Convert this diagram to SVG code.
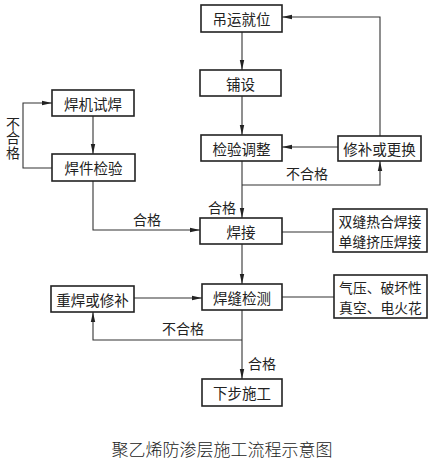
<svg xmlns="http://www.w3.org/2000/svg" width="435" height="465" viewBox="0 0 435 465">
<defs>
<marker id="arr" viewBox="0 0 10 6" refX="10" refY="3" markerWidth="10" markerHeight="6" markerUnits="userSpaceOnUse" orient="auto">
<path d="M0,0.8 L10,3 L0,5.2 Z" fill="#222"/>
</marker>
<style>
rect{fill:#fff;stroke:#222;stroke-width:1.6}
text{font-family:"Noto Sans CJK SC","Noto Sans CJK JP",sans-serif;font-size:14.5px;fill:#222;text-anchor:middle;dominant-baseline:central}
.lbl{font-size:14px}
.two{font-size:13.8px}
.vt{writing-mode:vertical-rl;text-orientation:upright;letter-spacing:0.5px}
.cap{font-size:17px;font-weight:300}
.ln{fill:none;stroke:#333;stroke-width:1.1}
.ar{marker-end:url(#arr)}
</style>
</defs>
<rect width="435" height="465" style="fill:#fff;stroke:none"/>
<g id="connectors">
<path class="ln ar" d="M242,32 V70"/>
<path class="ln ar" d="M242,96 V135"/>
<path class="ln ar" d="M338,147 H282"/>
<path class="ln ar" d="M380,136 V17 H282"/>
<path class="ln ar" d="M242,185 H380 V161"/>
<path class="ln ar" d="M242,161 V218"/>
<path class="ln ar" d="M93,116 V154"/>
<path class="ln ar" d="M52,168 H23 V103 H52"/>
<path class="ln ar" d="M93,181 V230 H200"/>
<path class="ln" d="M282,232 H333"/>
<path class="ln ar" d="M242,244 V284"/>
<path class="ln" d="M282,297 H334"/>
<path class="ln ar" d="M134,298 H202"/>
<path class="ln ar" d="M242,310 V379"/>
<path class="ln ar" d="M242,340 H93 V312"/>
<text class="lbl" x="307" y="173">不合格</text>
<text class="lbl" x="222" y="207">合格</text>
<text class="lbl" x="147" y="219">合格</text>
<text class="lbl vt" x="13" y="138">不合格</text>
<text class="lbl" x="183" y="328">不合格</text>
<text class="lbl" x="262" y="363">合格</text>
</g>
<g id="n1"><rect x="201" y="5" width="81" height="27"/><text x="241.5" y="18.5">吊运就位</text></g>
<g id="n2"><rect x="200" y="70" width="81" height="26"/><text x="240.5" y="83">铺设</text></g>
<g id="n3"><rect x="201" y="135" width="81" height="26"/><text x="241.5" y="148">检验调整</text></g>
<g id="n4"><rect x="338" y="136" width="83" height="25"/><text x="379.5" y="148.5">修补或更换</text></g>
<g id="n5"><rect x="52" y="90" width="82" height="26"/><text x="93" y="103">焊机试焊</text></g>
<g id="n6"><rect x="52" y="154" width="83" height="27"/><text x="93.5" y="167.5">焊件检验</text></g>
<g id="n7"><rect x="200" y="218" width="82" height="26"/><text x="241" y="231">焊接</text></g>
<g id="n8"><rect x="333" y="209" width="94" height="43"/><text class="two" x="380" y="220.5">双缝热合焊接</text><text class="two" x="380" y="240.5">单缝挤压焊接</text></g>
<g id="n9"><rect x="202" y="284" width="80" height="26"/><text x="242" y="297">焊缝检测</text></g>
<g id="n10"><rect x="334" y="275" width="93" height="43"/><text class="two" x="380.5" y="286.5">气压、破坏性</text><text class="two" x="380.5" y="306.5">真空、电火花</text></g>
<g id="n11"><rect x="51" y="286" width="83" height="26"/><text x="92.5" y="299">重焊或修补</text></g>
<g id="n12"><rect x="202" y="379" width="80" height="27"/><text x="242" y="392.5">下步施工</text></g>
<text class="cap" x="222" y="448">聚乙烯防渗层施工流程示意图</text>
</svg>
